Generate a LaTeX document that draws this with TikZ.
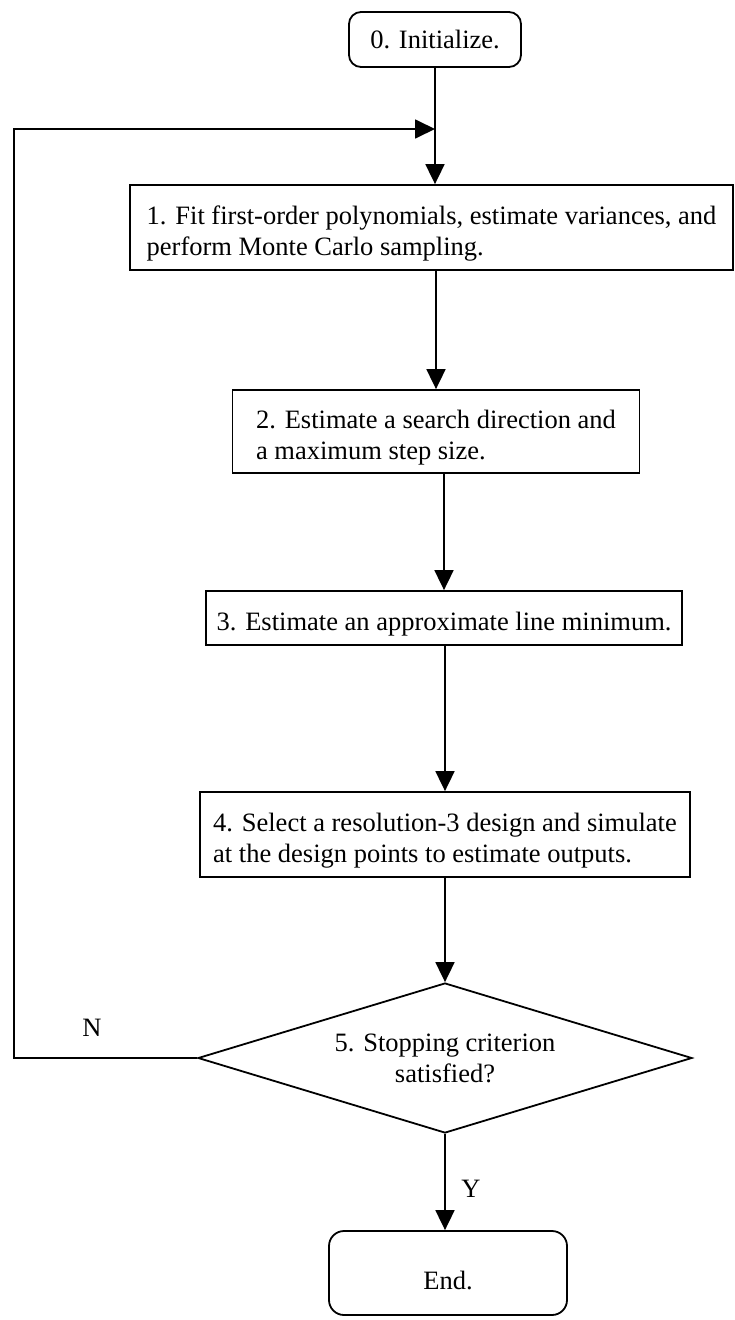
\documentclass[tikz,border=0pt]{standalone}
\usepackage{fontspec}
\setmainfont{Liberation Serif}
\usetikzlibrary{arrows.meta,shapes.geometric,positioning}
\newcommand{\padtop}{\rule{0pt}{30pt}}

\begin{document}
\begin{tikzpicture}[x=1pt,y=-1pt,
   every node/.style={font=\fontsize{26.5}{31}\selectfont},
   stepbox/.style={draw,line width=1.8pt,align=left,inner sep=0pt},
   termbox/.style={draw,line width=1.8pt,inner sep=0pt},
   decision/.style={draw,line width=1.8pt,diamond,aspect=3.3,inner sep=0pt,align=center},
   flow/.style={line width=1.8pt,-{Triangle[length=20pt,width=19pt]}},
   lbl/.style={inner sep=0pt}
]
   \useasboundingbox (0,0) rectangle (735,1320);

   % start
   \node[termbox,rounded corners=12pt,minimum width=172pt,minimum height=55pt]
      (init) at (435,39.5) {0. Initialize.};

   % steps
   \node[stepbox,minimum width=603pt,minimum height=85pt] (b1) at (431.5,227.5)
      {\padtop 1. Fit first-order polynomials, estimate variances, and\\perform Monte Carlo sampling.};
   \node[stepbox,minimum width=407pt,minimum height=83pt] (b2) at (436,431.5)
      {\padtop 2. Estimate a search direction and\\a maximum step size.};
   \node[stepbox,minimum width=476pt,minimum height=54pt] (b3) at (444,618)
      {\padtop 3. Estimate an approximate line minimum.};
   \node[stepbox,minimum width=490pt,minimum height=85pt] (b4) at (445,834.5)
      {\padtop 4. Select a resolution-3 design and simulate\\at the design points to estimate outputs.};

   % test
   \node[decision,minimum width=494pt,minimum height=150pt] (dec) at (445,1058)
      {5. Stopping criterion\\satisfied?};

   % stop
   \node[termbox,rounded corners=15pt,minimum width=238pt,minimum height=84pt,
      text height=32pt,text depth=0pt] (end) at (448,1273) {End.};

   \node[lbl] (no) at (92,1028) {N};
   \node[lbl] (yes) at (471,1189) {Y};

   \coordinate (join) at (435,129);
   \coordinate (back) at (14,129);

   \draw[flow] (init.south) -- (init.south |- b1.north);
   \draw[flow] (b1.south -| b2.north) -- (b2.north);
   \draw[flow] (b2.south -| b3.north) -- (b3.north);
   \draw[flow] (b3.south -| b4.north) -- (b4.north);
   \draw[flow] (b4.south) -- (dec.north);
   \draw[flow] (dec.south) -- (dec.south |- end.north);
   \draw[flow] (dec.west) -| (back) -- (join);
\end{tikzpicture}
\end{document}
